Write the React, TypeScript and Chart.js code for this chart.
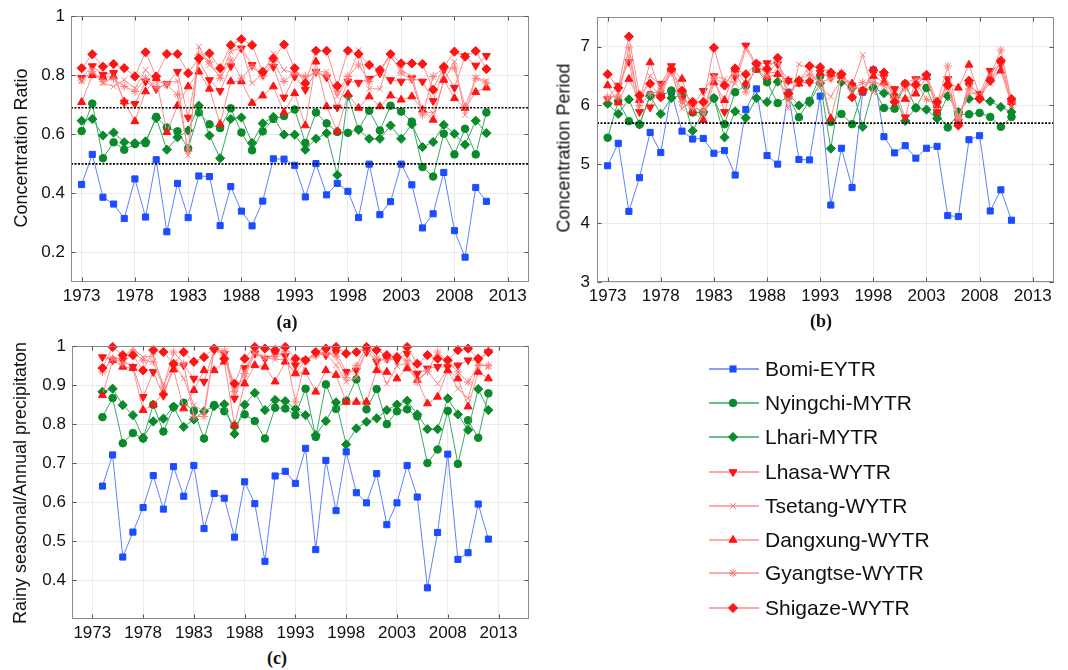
import React, { useEffect, useRef } from 'react';
import { Chart, registerables } from 'chart.js';

Chart.register(...registerables);

// ---------------- data ----------------
const yearsAB = [1973, 1974, 1975, 1976, 1977, 1978, 1979, 1980, 1981, 1982, 1983, 1984, 1985, 1986, 1987, 1988, 1989, 1990, 1991, 1992, 1993, 1994, 1995, 1996, 1997, 1998, 1999, 2000, 2001, 2002, 2003, 2004, 2005, 2006, 2007, 2008, 2009, 2010, 2011];
const yearsC = [1974, 1975, 1976, 1977, 1978, 1979, 1980, 1981, 1982, 1983, 1984, 1985, 1986, 1987, 1988, 1989, 1990, 1991, 1992, 1993, 1994, 1995, 1996, 1997, 1998, 1999, 2000, 2001, 2002, 2003, 2004, 2005, 2006, 2007, 2008, 2009, 2010, 2011, 2012];

const seriesNames = ['Bomi-EYTR', 'Nyingchi-MYTR', 'Lhari-MYTR', 'Lhasa-WYTR', 'Tsetang-WYTR', 'Dangxung-WYTR', 'Gyangtse-WYTR', 'Shigaze-WYTR'];

const xTicks = [1973, 1978, 1983, 1988, 1993, 1998, 2003, 2008, 2013];
const ratioTicks = [0.2, 0.4, 0.6, 0.8, 1];
const periodTicks = [3, 4, 5, 6, 7];
const rainTicks = [0.4, 0.5, 0.6, 0.7, 0.8, 0.9, 1];

const ratioRefLines = [0.69, 0.5];
const periodRefLines = [5.7];

// (a) Concentration Ratio
const ratioBomi = [0.43, 0.532, 0.387, 0.364, 0.315, 0.449, 0.32, 0.514, 0.27, 0.434, 0.318, 0.459, 0.457, 0.291, 0.423, 0.34, 0.29, 0.374, 0.517, 0.516, 0.495, 0.388, 0.501, 0.395, 0.434, 0.407, 0.318, 0.499, 0.328, 0.372, 0.499, 0.429, 0.283, 0.331, 0.471, 0.274, 0.184, 0.42, 0.373];
const ratioNyingchi = [0.611, 0.704, 0.519, 0.573, 0.548, 0.567, 0.57, 0.659, 0.623, 0.61, 0.552, 0.674, 0.634, 0.621, 0.688, 0.606, 0.546, 0.61, 0.652, 0.662, 0.684, 0.571, 0.674, 0.637, 0.608, 0.605, 0.617, 0.68, 0.613, 0.697, 0.677, 0.643, 0.489, 0.457, 0.602, 0.532, 0.619, 0.532, 0.674];
const ratioLhari = [0.646, 0.652, 0.596, 0.606, 0.573, 0.57, 0.576, 0.655, 0.548, 0.59, 0.613, 0.697, 0.596, 0.519, 0.652, 0.657, 0.571, 0.637, 0.659, 0.599, 0.599, 0.548, 0.585, 0.604, 0.462, 0.73, 0.615, 0.585, 0.585, 0.63, 0.585, 0.634, 0.557, 0.574, 0.632, 0.602, 0.565, 0.646, 0.604];
const ratioLhasa = [0.791, 0.831, 0.802, 0.808, 0.708, 0.703, 0.779, 0.754, 0.771, 0.812, 0.657, 0.852, 0.784, 0.747, 0.831, 0.891, 0.835, 0.801, 0.829, 0.725, 0.796, 0.751, 0.812, 0.793, 0.691, 0.779, 0.775, 0.788, 0.807, 0.784, 0.779, 0.79, 0.779, 0.713, 0.818, 0.758, 0.865, 0.833, 0.866];
const ratioTsetang = [0.78, 0.818, 0.773, 0.762, 0.784, 0.756, 0.818, 0.779, 0.773, 0.781, 0.529, 0.897, 0.835, 0.796, 0.88, 0.893, 0.773, 0.807, 0.874, 0.818, 0.807, 0.79, 0.812, 0.812, 0.728, 0.79, 0.885, 0.754, 0.754, 0.863, 0.818, 0.796, 0.678, 0.672, 0.779, 0.846, 0.666, 0.792, 0.781];
const ratioDangxung = [0.709, 0.8, 0.794, 0.796, 0.711, 0.644, 0.745, 0.79, 0.607, 0.697, 0.762, 0.812, 0.754, 0.635, 0.779, 0.779, 0.706, 0.731, 0.762, 0.674, 0.739, 0.63, 0.846, 0.694, 0.61, 0.736, 0.689, 0.728, 0.694, 0.731, 0.717, 0.728, 0.683, 0.649, 0.784, 0.722, 0.689, 0.743, 0.758];
const ratioGyangtse = [0.784, 0.812, 0.779, 0.788, 0.762, 0.745, 0.79, 0.758, 0.767, 0.734, 0.543, 0.869, 0.846, 0.79, 0.852, 0.79, 0.829, 0.796, 0.846, 0.779, 0.81, 0.796, 0.807, 0.801, 0.745, 0.796, 0.835, 0.779, 0.812, 0.869, 0.807, 0.784, 0.666, 0.796, 0.824, 0.824, 0.694, 0.79, 0.773];
const ratioShigaze = [0.824, 0.871, 0.829, 0.838, 0.824, 0.796, 0.878, 0.796, 0.872, 0.872, 0.807, 0.857, 0.874, 0.824, 0.902, 0.922, 0.902, 0.812, 0.857, 0.904, 0.824, 0.773, 0.883, 0.883, 0.764, 0.883, 0.872, 0.835, 0.818, 0.872, 0.84, 0.84, 0.838, 0.751, 0.829, 0.88, 0.863, 0.882, 0.821];

// (b) Concentration Period
const periodBomi = [4.975, 5.357, 4.2, 4.773, 5.542, 5.2, 6.226, 5.564, 5.43, 5.44, 5.188, 5.233, 4.818, 5.929, 6.282, 5.149, 5.003, 6.226, 5.082, 5.075, 6.159, 4.308, 5.273, 4.605, 6.226, 6.602, 5.469, 5.194, 5.317, 5.104, 5.273, 5.306, 4.128, 4.112, 5.418, 5.486, 4.207, 4.566, 4.05];
const periodNyingchi = [5.452, 6.075, 5.733, 5.676, 6.18, 6.16, 6.254, 6.2, 5.88, 5.88, 6.12, 5.682, 6.226, 6.338, 6.62, 6.394, 6.04, 6.15, 5.8, 6.08, 6.5, 5.72, 5.856, 5.682, 6.25, 6.299, 5.957, 5.946, 6.366, 5.957, 6.299, 5.86, 5.626, 5.85, 5.85, 5.873, 5.805, 5.637, 5.805];
const periodLhari = [6.03, 5.856, 6.103, 5.68, 6.159, 5.856, 6.125, 6.18, 5.57, 5.89, 6.125, 5.458, 5.9, 5.789, 6.125, 6.058, 6.405, 6.2, 6.0, 6.05, 6.38, 5.267, 6.4, 6.3, 5.637, 6.3, 6.21, 6.17, 5.738, 5.96, 5.93, 5.78, 6.159, 5.89, 6.114, 6.11, 6.07, 5.974, 5.89];
const periodLhasa = [6.11, 6.34, 6.74, 5.89, 5.97, 6.37, 6.67, 6.11, 6.0, 6.25, 6.5, 5.89, 6.48, 7.02, 6.7, 6.72, 6.7, 6.42, 6.39, 6.39, 6.56, 6.48, 6.5, 6.34, 6.25, 6.56, 6.48, 6.28, 5.8, 6.45, 6.5, 5.89, 6.45, 5.72, 6.34, 6.2, 6.59, 6.7, 6.03];
const periodTsetang = [6.11, 6.2, 6.85, 6.03, 6.5, 6.34, 6.6, 5.95, 6.06, 5.83, 6.5, 6.45, 6.37, 6.96, 6.67, 6.56, 6.56, 5.95, 6.7, 6.62, 6.3, 6.15, 6.45, 6.34, 6.86, 6.22, 6.45, 6.2, 6.39, 6.45, 6.45, 5.97, 6.31, 5.8, 6.2, 6.2, 6.37, 6.62, 6.0];
const periodDangxung = [6.34, 6.05, 6.45, 6.09, 6.73, 6.23, 6.62, 6.45, 5.89, 5.75, 6.39, 6.09, 6.62, 6.37, 6.61, 6.48, 6.53, 6.42, 6.37, 6.42, 6.55, 5.78, 6.5, 6.37, 6.25, 6.5, 6.39, 6.17, 6.11, 6.2, 6.48, 6.0, 6.39, 6.3, 6.69, 6.17, 6.48, 6.59, 6.06];
const periodGyangtse = [6.14, 6.15, 6.98, 6.0, 6.2, 6.25, 6.56, 6.06, 5.95, 5.92, 6.46, 6.37, 6.56, 6.23, 6.7, 6.5, 6.76, 6.11, 6.45, 6.53, 6.4, 6.45, 6.56, 6.28, 6.39, 6.39, 6.34, 6.11, 6.28, 6.4, 6.1, 6.03, 6.67, 5.78, 6.28, 6.14, 6.5, 6.94, 6.08];
const periodShigaze = [6.53, 6.3, 7.17, 6.17, 6.37, 6.14, 6.62, 6.25, 6.06, 6.06, 6.98, 6.34, 6.63, 6.53, 6.71, 6.62, 6.81, 6.2, 6.42, 6.67, 6.65, 6.56, 6.53, 6.14, 6.25, 6.6, 6.56, 6.06, 6.37, 6.35, 6.52, 6.06, 6.34, 5.66, 6.42, 6.11, 6.42, 6.76, 6.11];

// (c) Rainy seasonal / Annual precipitation
const rainBomi = [0.641, 0.721, 0.459, 0.523, 0.586, 0.668, 0.582, 0.691, 0.615, 0.694, 0.532, 0.622, 0.61, 0.51, 0.652, 0.596, 0.448, 0.667, 0.679, 0.648, 0.738, 0.478, 0.707, 0.578, 0.729, 0.624, 0.598, 0.673, 0.542, 0.598, 0.694, 0.613, 0.38, 0.522, 0.723, 0.453, 0.47, 0.595, 0.505];
const rainNyingchi = [0.818, 0.867, 0.751, 0.777, 0.763, 0.85, 0.781, 0.843, 0.855, 0.834, 0.763, 0.849, 0.833, 0.795, 0.825, 0.808, 0.763, 0.842, 0.84, 0.823, 0.891, 0.767, 0.902, 0.839, 0.86, 0.915, 0.838, 0.89, 0.8, 0.833, 0.838, 0.82, 0.7, 0.735, 0.834, 0.698, 0.81, 0.765, 0.879];
const rainLhari = [0.883, 0.891, 0.849, 0.823, 0.765, 0.807, 0.814, 0.845, 0.793, 0.812, 0.833, 0.846, 0.851, 0.775, 0.85, 0.88, 0.836, 0.862, 0.859, 0.839, 0.823, 0.772, 0.808, 0.856, 0.748, 0.789, 0.806, 0.815, 0.836, 0.85, 0.86, 0.825, 0.787, 0.787, 0.866, 0.825, 0.785, 0.89, 0.836];
const rainLhasa = [0.972, 0.964, 0.964, 0.947, 0.87, 0.934, 0.873, 0.95, 0.951, 0.917, 0.909, 0.99, 0.981, 0.866, 0.944, 0.981, 0.968, 0.981, 0.975, 0.951, 0.964, 0.981, 0.977, 0.985, 0.934, 0.938, 0.985, 0.96, 0.968, 0.964, 0.981, 0.93, 0.943, 0.947, 0.947, 0.951, 0.964, 0.964, 0.985];
const rainTsetang = [0.94, 0.964, 0.972, 0.994, 0.972, 0.975, 0.9, 0.955, 0.917, 0.849, 0.832, 0.994, 0.987, 0.89, 0.917, 0.983, 0.97, 0.966, 0.966, 0.93, 0.964, 0.981, 0.981, 0.951, 0.909, 0.92, 0.992, 0.962, 0.904, 0.949, 0.958, 0.913, 0.936, 0.904, 0.938, 0.891, 0.866, 0.958, 0.947];
const rainDangxung = [0.874, 0.964, 0.947, 0.944, 0.836, 0.85, 0.88, 0.94, 0.84, 0.887, 0.938, 0.938, 0.96, 0.797, 0.904, 0.951, 0.947, 0.909, 0.96, 0.93, 0.934, 0.883, 0.938, 0.926, 0.857, 0.857, 0.857, 0.938, 0.934, 0.917, 0.943, 0.913, 0.853, 0.87, 0.938, 0.917, 0.845, 0.934, 0.917];
const rainGyangtse = [0.934, 0.968, 0.955, 0.985, 0.964, 0.96, 0.895, 0.985, 0.955, 0.819, 0.82, 0.992, 0.987, 0.883, 0.93, 0.99, 0.97, 0.974, 0.987, 0.857, 0.964, 0.975, 0.983, 0.974, 0.92, 0.95, 0.998, 0.97, 0.965, 0.974, 0.962, 0.908, 0.936, 0.985, 0.96, 0.934, 0.908, 0.95, 0.95];
const rainShigaze = [0.944, 0.998, 0.977, 0.977, 0.938, 0.99, 0.985, 0.955, 0.985, 0.96, 0.972, 0.994, 0.968, 0.904, 0.968, 0.998, 0.994, 0.99, 0.998, 0.968, 0.964, 0.985, 0.994, 0.998, 0.981, 0.985, 0.998, 0.99, 0.977, 0.972, 0.998, 0.955, 0.977, 0.968, 0.964, 0.99, 0.994, 0.968, 0.985];

// ---------------- styles ----------------
const FONT = "'Liberation Sans', Arial, Helvetica, sans-serif";
const BLUE_LINE = '#5f80ff';
const BLUE_MARK = '#1c4cff';
const GREEN_LINE = '#3aa862';
const GREEN_MARK = '#0a8a2a';
const RED_LINE = '#ff8c8c';
const RED_MARK = '#ff1414';
const PINK_MARK = '#ff7a7a';

type SeriesStyle = { pointStyle: any; radius: number; rotation: number; line: string; mark: string; fill: string };
const seriesStyles: SeriesStyle[] = [
  { pointStyle: 'rect', radius: 4.3, rotation: 0, line: BLUE_LINE, mark: BLUE_MARK, fill: BLUE_MARK },
  { pointStyle: 'circle', radius: 3.8, rotation: 0, line: GREEN_LINE, mark: GREEN_MARK, fill: GREEN_MARK },
  { pointStyle: 'rectRot', radius: 4.6, rotation: 0, line: GREEN_LINE, mark: GREEN_MARK, fill: GREEN_MARK },
  { pointStyle: 'triangle', radius: 4.6, rotation: 180, line: RED_LINE, mark: RED_MARK, fill: RED_MARK },
  { pointStyle: 'crossRot', radius: 4, rotation: 0, line: RED_LINE, mark: PINK_MARK, fill: PINK_MARK },
  { pointStyle: 'triangle', radius: 4.6, rotation: 0, line: RED_LINE, mark: RED_MARK, fill: RED_MARK },
  { pointStyle: 'star', radius: 4.2, rotation: 0, line: RED_LINE, mark: PINK_MARK, fill: PINK_MARK },
  { pointStyle: 'rectRot', radius: 4.6, rotation: 0, line: RED_LINE, mark: RED_MARK, fill: RED_MARK },
];

type PanelSpec = {
  years: number[];
  values: number[][];
  xMin: number;
  xMax: number;
  yMin: number;
  yMax: number;
  yTicks: number[];
  refLines: number[];
  width: number;
  height: number;
  areaLeft: number;
  areaTop: number;
  areaRight: number;
  areaBottom: number;
  yPad: number;
};

const framePlugin = {
  id: 'frame',
  afterDraw(chart: any) {
    const { ctx, chartArea: a, scales } = chart;
    ctx.save();
    ctx.strokeStyle = '#8c8c8c';
    ctx.lineWidth = 1;
    const l = Math.round(a.left) + 0.5;
    const t = Math.round(a.top) + 0.5;
    const r = Math.round(a.right) - 0.5;
    const b = Math.round(a.bottom) - 0.5;
    ctx.strokeRect(l, t, r - l, b - t);
    ctx.strokeStyle = '#555';
    ctx.beginPath();
    const tl = 4;
    scales.x.ticks.forEach((tk: any) => {
      const px = Math.round(scales.x.getPixelForValue(tk.value)) + 0.5;
      ctx.moveTo(px, b); ctx.lineTo(px, b - tl);
      ctx.moveTo(px, t); ctx.lineTo(px, t + tl);
    });
    scales.y.ticks.forEach((tk: any) => {
      const py = Math.round(scales.y.getPixelForValue(tk.value)) + 0.5;
      ctx.moveTo(l, py); ctx.lineTo(l + tl, py);
      ctx.moveTo(r, py); ctx.lineTo(r - tl, py);
    });
    ctx.stroke();
    ctx.restore();
  },
};

function buildConfig(p: PanelSpec): any {
  const datasets: any[] = seriesStyles.map((s, i) => ({
    label: seriesNames[i],
    data: p.years.map((yr, j) => ({ x: yr, y: p.values[i][j] })),
    borderColor: s.line,
    backgroundColor: s.fill,
    pointBorderColor: s.mark,
    pointBackgroundColor: s.fill,
    pointStyle: s.pointStyle,
    pointRadius: s.radius,
    pointRotation: s.rotation,
    pointBorderWidth: 1,
    borderWidth: 1,
    tension: 0,
    clip: false,
    order: 10 - i,
  }));
  p.refLines.forEach((v) => {
    datasets.push({
      label: 'ref',
      data: [{ x: p.xMin, y: v }, { x: p.xMax, y: v }],
      borderColor: '#000',
      borderDash: [2, 1.5],
      borderWidth: 1.6,
      pointRadius: 0,
      clip: false,
      order: 0,
    });
  });
  return {
    type: 'line',
    data: { datasets },
    plugins: [framePlugin],
    options: {
      responsive: false,
      animation: false,
      devicePixelRatio: 1,
      layout: { padding: { left: 0, top: p.areaTop, right: p.width - p.areaRight, bottom: 0 } },
      plugins: { legend: { display: false }, tooltip: { enabled: false }, title: { display: false } },
      scales: {
        x: {
          type: 'linear',
          min: p.xMin,
          max: p.xMax,
          afterBuildTicks: (scale: any) => { scale.ticks = xTicks.map((v) => ({ value: v })); },
          afterFit: (scale: any) => { scale.height = p.height - p.areaBottom; },
          ticks: {
            autoSkip: false,
            maxRotation: 0,
            padding: 4,
            color: '#111',
            font: { family: FONT, size: 17 },
            callback: (v: any) => String(v),
          },
          grid: { color: '#ebebeb', drawTicks: false, lineWidth: 1 },
          border: { display: false },
        },
        y: {
          type: 'linear',
          min: p.yMin,
          max: p.yMax,
          afterBuildTicks: (scale: any) => { scale.ticks = p.yTicks.map((v) => ({ value: v })); },
          afterFit: (scale: any) => { scale.width = p.areaLeft; },
          ticks: {
            autoSkip: false,
            padding: p.yPad,
            color: '#111',
            font: { family: FONT, size: 17 },
            callback: (v: any) => String(v),
          },
          grid: { color: '#ebebeb', drawTicks: false, lineWidth: 1 },
          border: { display: false },
        },
      },
    },
  };
}

function Panel({ spec, left, top }: { spec: PanelSpec; left: number; top: number }) {
  const ref = useRef<HTMLCanvasElement>(null);
  useEffect(() => {
    const chart = new Chart(ref.current as HTMLCanvasElement, buildConfig(spec));
    return () => chart.destroy();
  }, []);
  return (
    <canvas
      ref={ref}
      width={spec.width}
      height={spec.height}
      style={{ position: 'absolute', left, top, width: spec.width, height: spec.height }}
    />
  );
}

const panelA: PanelSpec = {
  years: yearsAB,
  values: [ratioBomi, ratioNyingchi, ratioLhari, ratioLhasa, ratioTsetang, ratioDangxung, ratioGyangtse, ratioShigaze],
  xMin: 1972, xMax: 2015, yMin: 0.1, yMax: 1, yTicks: ratioTicks, refLines: ratioRefLines,
  width: 545, height: 315, areaLeft: 71, areaTop: 14, areaRight: 529, areaBottom: 282, yPad: 6,
};
const panelB: PanelSpec = {
  years: yearsAB,
  values: [periodBomi, periodNyingchi, periodLhari, periodLhasa, periodTsetang, periodDangxung, periodGyangtse, periodShigaze],
  xMin: 1972, xMax: 2015, yMin: 3, yMax: 7.5, yTicks: periodTicks, refLines: periodRefLines,
  width: 528, height: 315, areaLeft: 57, areaTop: 14, areaRight: 514, areaBottom: 282, yPad: 7,
};
const panelC: PanelSpec = {
  years: yearsC,
  values: [rainBomi, rainNyingchi, rainLhari, rainLhasa, rainTsetang, rainDangxung, rainGyangtse, rainShigaze],
  xMin: 1971, xMax: 2016, yMin: 0.3, yMax: 1, yTicks: rainTicks, refLines: [],
  width: 545, height: 315, areaLeft: 72, areaTop: 16, areaRight: 529, areaBottom: 289, yPad: 6,
};

function VText({ text, cx, cy }: { text: string; cx: number; cy: number }) {
  return (
    <div
      style={{
        position: 'absolute', left: cx, top: cy, transform: 'translate(-50%, -50%) rotate(-90deg)',
        whiteSpace: 'nowrap', fontFamily: FONT, fontSize: 18, color: '#111', lineHeight: '21px',
      }}
    >
      {text}
    </div>
  );
}

function PanelLabel({ text, cx, cy }: { text: string; cx: number; cy: number }) {
  return (
    <div
      style={{
        position: 'absolute', left: cx, top: cy, transform: 'translate(-50%, -50%)',
        whiteSpace: 'nowrap', fontFamily: "'Liberation Serif', 'Times New Roman', serif", fontWeight: 'bold',
        fontSize: 18, color: '#111', lineHeight: '20px',
      }}
    >
      {text}
    </div>
  );
}

function Marker({ s }: { s: SeriesStyle }) {
  const cx = 25;
  const cy = 9;
  const r = s.radius;
  switch (s.pointStyle) {
    case 'rect': {
      const h = r * Math.SQRT1_2;
      return <rect x={cx - h} y={cy - h} width={2 * h} height={2 * h} fill={s.fill} stroke={s.mark} strokeWidth={1} />;
    }
    case 'circle':
      return <circle cx={cx} cy={cy} r={r} fill={s.fill} stroke={s.mark} strokeWidth={1} />;
    case 'rectRot':
      return <polygon points={`${cx},${cy - r} ${cx + r},${cy} ${cx},${cy + r} ${cx - r},${cy}`} fill={s.fill} stroke={s.mark} strokeWidth={1} />;
    case 'triangle': {
      const pts = [0, 120, 240].map((a) => {
        const rad = ((a + s.rotation) * Math.PI) / 180;
        return `${cx + Math.sin(rad) * r},${cy - Math.cos(rad) * r}`;
      });
      return <polygon points={pts.join(' ')} fill={s.fill} stroke={s.mark} strokeWidth={1} />;
    }
    case 'crossRot': {
      const d = r * Math.SQRT1_2;
      return <path d={`M${cx - d},${cy - d}L${cx + d},${cy + d}M${cx + d},${cy - d}L${cx - d},${cy + d}`} stroke={s.mark} strokeWidth={1} />;
    }
    case 'star': {
      const d = r * Math.SQRT1_2;
      return <path d={`M${cx - d},${cy - d}L${cx + d},${cy + d}M${cx + d},${cy - d}L${cx - d},${cy + d}M${cx},${cy - r}L${cx},${cy + r}M${cx - r},${cy}L${cx + r},${cy}`} stroke={s.mark} strokeWidth={1} />;
    }
    default:
      return null;
  }
}

const legendRowsY = [369, 403, 437, 472, 506, 540, 573, 608];

function Legend() {
  return (
    <>
      {seriesNames.map((name, i) => {
        const s = seriesStyles[i];
        const y = legendRowsY[i];
        return (
          <React.Fragment key={name}>
            <svg width={52} height={18} style={{ position: 'absolute', left: 708, top: y - 9 }}>
              <line x1={1} y1={9} x2={51} y2={9} stroke={s.line} strokeWidth={1.3} />
              <Marker s={s} />
            </svg>
            <div
              style={{
                position: 'absolute', left: 765, top: y - 12, height: 24, lineHeight: '24px',
                fontFamily: FONT, fontSize: 21, color: '#111', whiteSpace: 'nowrap',
              }}
            >
              {name}
            </div>
          </React.Fragment>
        );
      })}
    </>
  );
}

export default function App() {
  return (
    <div style={{ position: 'absolute', left: 0, top: 0, width: 1068, height: 670, background: '#fff', overflow: 'hidden' }}>
      <Panel spec={panelA} left={0} top={0} />
      <Panel spec={panelB} left={540} top={0} />
      <Panel spec={panelC} left={0} top={330} />
      <VText text="Concentration Ratio" cx={21} cy={148} />
      <VText text="Concentration Period" cx={564} cy={148} />
      <VText text="Rainy seasonal/Annual precipitaton" cx={20} cy={483} />
      <PanelLabel text="(a)" cx={287} cy={322} />
      <PanelLabel text="(b)" cx={821} cy={321} />
      <PanelLabel text="(c)" cx={277} cy={658} />
      <Legend />
    </div>
  );
}
